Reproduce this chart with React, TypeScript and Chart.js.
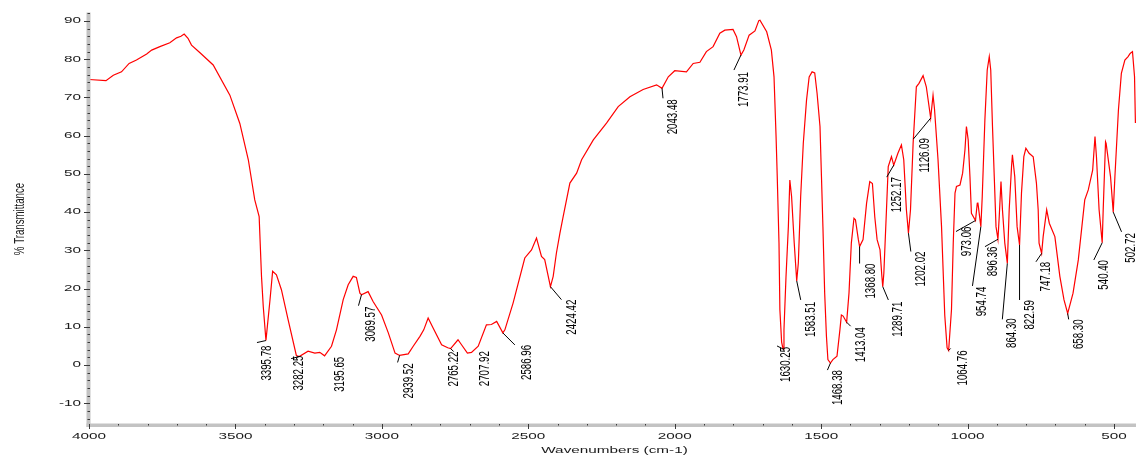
import React, { useEffect, useRef } from "react";
import { Chart, registerables } from "chart.js";

Chart.register(...registerables);

// Spectrum (wavenumber in cm-1, % transmittance)
const wavenumbers = [
  4000, 3942, 3917, 3889, 3863, 3838, 3803, 3786, 3758, 3724, 3701, 3686, 3675, 3662, 3650, 3621, 3576, 3519, 3485, 3456,
  3434, 3419, 3411, 3405, 3395.78, 3391, 3382, 3373, 3360, 3343, 3320, 3292, 3282.25, 3252, 3229, 3212, 3195.65, 3172, 3155, 3132,
  3115, 3098, 3087, 3075, 3069.57, 3047, 3030, 3001, 2978, 2955, 2939.52, 2910, 2893, 2870, 2857, 2842, 2825, 2796, 2775, 2765.22,
  2740, 2728, 2707.92, 2694, 2671, 2643, 2626, 2608, 2586.96, 2580, 2552, 2512, 2489, 2472, 2455, 2444, 2424.42, 2415, 2404, 2392,
  2381, 2358, 2335, 2318, 2278, 2233, 2193, 2153, 2108, 2062, 2043.48, 2022, 2000, 1960, 1937, 1914, 1892, 1869, 1846, 1829,
  1801, 1789, 1773.91, 1764, 1746, 1726, 1713, 1709, 1686, 1670, 1661, 1654, 1650, 1644, 1641, 1635, 1630.25, 1627, 1620, 1612,
  1607, 1601, 1592, 1583.51, 1578, 1570, 1561, 1550, 1541, 1531, 1522, 1514, 1504, 1499, 1494, 1488, 1482, 1477, 1468.38, 1460,
  1446, 1436, 1431, 1425, 1413.04, 1405, 1397, 1388, 1383, 1373, 1368.8, 1357, 1345, 1334, 1325, 1317, 1309, 1299, 1293, 1289.71,
  1286, 1277, 1271, 1260, 1252.17, 1238, 1226, 1218, 1209, 1202.02, 1195, 1186, 1175, 1166, 1152, 1141, 1126.09, 1118, 1113, 1101,
  1089, 1078, 1070, 1064.76, 1055, 1049, 1043, 1038, 1026, 1017, 1009, 1004, 998, 992, 987, 973.06, 967, 965, 954.74, 950,
  941, 933, 926, 921, 915, 909, 903, 896.36, 892, 886, 881, 873, 864.3, 858, 850, 847, 839, 831, 822.59, 816,
  808, 801, 790, 776, 765, 759, 756, 747.18, 742, 730, 721, 702, 685, 671, 658.3, 640, 622, 600, 588, 573,
  565, 560, 551, 540.4, 537, 529, 527, 512, 502.72, 497, 485, 475, 463, 452, 445, 437, 430, 427,
];
const transmittance = [
  74.7, 74.4, 75.8, 76.7, 78.9, 79.8, 81.4, 82.4, 83.3, 84.3, 85.6, 86.0, 86.6, 85.5, 83.7, 81.7, 78.5, 70.6, 63.2, 53.7,
  43.2, 38.8, 23.2, 15.3, 6.4, 10.1, 17.0, 24.5, 23.6, 19.7, 11.8, 2.5, 2.2, 3.6, 3.1, 3.3, 2.4, 4.9, 9.2, 17.1,
  21.0, 23.2, 22.9, 18.8, 18.4, 19.2, 16.6, 13.1, 8.4, 3.1, 2.5, 2.9, 4.9, 7.5, 9.2, 12.3, 9.7, 5.3, 4.5, 4.3,
  6.6, 5.3, 3.1, 3.3, 4.9, 10.5, 10.6, 11.4, 8.4, 9.2, 16.2, 28.0, 30.1, 33.2, 28.4, 27.6, 20.5, 23.2, 29.3, 34.5,
  38.8, 47.6, 50.2, 53.7, 58.9, 63.3, 67.6, 70.2, 72.1, 73.3, 72.4, 75.4, 77.0, 76.7, 78.9, 79.2, 82.0, 83.3, 86.8, 87.6,
  87.8, 85.9, 81.1, 82.4, 86.3, 87.4, 90.1, 90.2, 87.2, 82.4, 75.4, 59.8, 49.3, 31.9, 14.5, 6.0, 4.2, 9.2, 23.2, 36.2,
  48.4, 44.1, 31.9, 22.0, 26.7, 44.1, 58.0, 69.3, 75.4, 76.7, 76.4, 71.1, 62.4, 49.3, 36.2, 18.8, 7.5, 1.4, 0.5, 1.4,
  2.3, 9.2, 13.1, 12.8, 11.2, 18.8, 31.9, 38.4, 38.0, 32.8, 31.0, 32.8, 42.3, 48.0, 47.5, 38.8, 32.8, 30.1, 23.5, 20.5,
  24.0, 40.6, 51.9, 54.5, 52.3, 55.4, 57.6, 53.7, 40.6, 34.5, 40.6, 58.0, 72.8, 73.7, 75.7, 72.8, 64.6, 70.6, 67.0, 53.7,
  36.2, 13.0, 4.5, 3.8, 14.5, 31.9, 45.0, 46.7, 47.1, 50.2, 56.3, 62.4, 58.9, 49.3, 39.7, 37.8, 42.3, 42.5, 36.2, 44.1,
  64.1, 77.2, 80.7, 77.2, 62.4, 49.3, 36.2, 32.9, 38.8, 48.0, 40.6, 31.9, 26.6, 40.6, 51.9, 55.0, 49.3, 36.2, 31.4, 45.0,
  54.5, 56.7, 55.4, 54.5, 47.6, 40.6, 31.9, 29.2, 33.6, 40.6, 37.1, 33.6, 23.2, 17.1, 13.5, 18.8, 27.5, 43.2, 45.8, 51.0,
  59.8, 54.5, 40.6, 32.0, 40.6, 58.4, 58.0, 49.3, 40.0, 49.3, 66.7, 76.3, 79.8, 80.7, 81.5, 82.0, 75.4, 63.3,
];

// Labelled peaks
const peakWavenumbers = [
  3395.78, 3282.25, 3195.65, 3069.57, 2939.52, 2765.22, 2707.92, 2586.96, 2424.42, 2043.48, 1773.91, 1630.25, 1583.51, 1468.38, 1413.04,
  1368.8, 1289.71, 1252.17, 1202.02, 1126.09, 1064.76, 973.06, 954.74, 896.36, 864.3, 822.59, 747.18, 658.3, 540.4, 502.72,
];
const peakTransmittance = [
  6.4, 2.2, 2.4, 18.4, 2.5, 4.3, 3.1, 8.4, 20.5, 72.4, 81.1, 4.2, 22.0, 0.5, 11.2,
  31.0, 20.5, 52.3, 34.5, 64.6, 3.8, 37.8, 36.2, 32.9, 26.6, 31.4, 29.2, 13.5, 32.0, 40.0,
];

// Axis ticks and titles
const xMajorTicks = [4000, 3500, 3000, 2500, 2000, 1500, 1000, 500];
const yMajorTicks = [-10, 0, 10, 20, 30, 40, 50, 60, 70, 80, 90];
const xTitle = "Wavenumbers (cm-1)";
const yTitle = "% Transmittance";

// Layout of the peak annotations in pixels: [leaderDx, leaderDy, textDx, textTopDy]
const peakLayout = [
  [-9, 2, 1, 5], [-8, 2, 0, -1], [0, 0, 15, 1], [-3, 11, 9, 12], [-2, 7, 9, 8],
  [3, 3, 3.5, 3], [0, 0, 18, -2], [12, 12, 24, 12], [11, 13, 22, 13], [1, 10, 11, 11],
  [-7, 15, 3.5, 17], [-6, -3, 3, -2], [4, 19, 14.5, 21], [-3, 7, 8, 7], [4, 4, 14.5, 5],
  [0, 17, 11, 17], [5.6, 13.3, 15.6, 15], [-7, 12, 3, 12], [2.4, 18.4, 12.7, 18.4], [-17.4, 21, -5.7, 20],
  [2, -2, 14, 0], [-19.5, 11, -8.5, 6], [-8.4, 59.3, 1.3, 60], [-13, 7.4, -4.5, 7.4], [-5, 56, 5, 55],
  [0, 55, 10, 55], [-5.7, 8.4, 4.6, 8.4], [1, 6, 11.5, 6], [-8.4, 17.3, 2, 17.3], [8.3, 19.7, 18, 21],
];

const FONT_FAMILY = "'Liberation Sans', Arial, Helvetica, sans-serif";

function drawWide(ctx: CanvasRenderingContext2D, text: string, x: number, y: number, align: CanvasTextAlign) {
  ctx.save();
  ctx.translate(x, y);
  ctx.scale(1.8, 1);
  ctx.font = `8.5px ${FONT_FAMILY}`;
  ctx.textAlign = align;
  ctx.textBaseline = "middle";
  ctx.fillText(text, 0, 0);
  ctx.restore();
}

function drawVertical(ctx: CanvasRenderingContext2D, text: string, x: number, y: number, align: CanvasTextAlign) {
  ctx.save();
  ctx.translate(x, y);
  ctx.rotate(-Math.PI / 2);
  ctx.scale(1, 1.5);
  ctx.font = `9.7px ${FONT_FAMILY}`;
  ctx.textAlign = align;
  ctx.textBaseline = "middle";
  ctx.fillText(text, 0, 0);
  ctx.restore();
}

const irAxesPlugin = {
  id: "irAxes",
  afterDatasetsDraw(chart: any) {
    const { ctx, chartArea: ca, scales } = chart;
    const xs = scales.x;
    const ys = scales.y;
    ctx.save();

    // axis bands
    ctx.fillStyle = "#c3c3c3";
    ctx.fillRect(ca.left - 2.5, ca.top - 0.5, 4, ca.bottom - ca.top + 2.5);
    ctx.fillRect(ca.left - 2.5, ca.bottom - 1.5, ca.right - ca.left + 2.5, 3.5);

    ctx.strokeStyle = "#3a3a3a";
    ctx.lineWidth = 1;

    // y ticks (minor every 2, major every 10)
    for (let v = ys.min - (ys.min % 2); v <= ys.max; v += 2) {
      const vv = Math.round(v);
      if (vv < ys.min || vv > ys.max) continue;
      const py = Math.round(ys.getPixelForValue(vv)) + 0.5;
      const major = vv % 10 === 0;
      ctx.beginPath();
      ctx.moveTo(major ? ca.left - 5 : ca.left - 1.5, py);
      ctx.lineTo(ca.left + 1, py);
      ctx.stroke();
    }

    // x ticks (minor every 100, major every 500)
    for (let v = 4000; v >= xs.min; v -= 100) {
      const px = Math.round(xs.getPixelForValue(v)) + 0.5;
      const major = v % 500 === 0;
      ctx.beginPath();
      ctx.moveTo(px, ca.bottom - 1);
      ctx.lineTo(px, major ? ca.bottom + 4 : ca.bottom + 0.5);
      ctx.stroke();
    }

    // tick labels
    ctx.fillStyle = "#1a1a1a";
    yMajorTicks.forEach((v) => {
      drawWide(ctx, String(v), ca.left - 8, ys.getPixelForValue(v), "right");
    });
    xMajorTicks.forEach((v) => {
      drawWide(ctx, String(v), xs.getPixelForValue(v), ca.bottom + 12, "center");
    });

    // titles
    drawWide(ctx, xTitle, (ca.left + ca.right) / 2 + 2, ca.bottom + 25.5, "center");
    drawVertical(ctx, yTitle, 20, (ca.top + ca.bottom) / 2, "center");

    // peak annotations
    ctx.strokeStyle = "#000";
    ctx.fillStyle = "#000";
    peakWavenumbers.forEach((wn, i) => {
      const px = xs.getPixelForValue(wn);
      const py = ys.getPixelForValue(peakTransmittance[i]);
      const [ldx, ldy, tdx, tdy] = peakLayout[i];
      if (ldx !== 0 || ldy !== 0) {
        ctx.beginPath();
        ctx.moveTo(px, py);
        ctx.lineTo(px + ldx, py + ldy);
        ctx.stroke();
      }
      drawVertical(ctx, wn.toFixed(2), px + tdx, py + tdy, "right");
    });

    ctx.restore();
  },
};

export default function App() {
  const canvasRef = useRef<HTMLCanvasElement | null>(null);

  useEffect(() => {
    if (!canvasRef.current) return;
    const points = wavenumbers.map((w, i) => ({ x: w, y: transmittance[i] }));
    const chart = new Chart(canvasRef.current, {
      type: "line",
      data: {
        datasets: [
          {
            label: "Spectrum",
            data: points,
            borderColor: "#ff0000",
            borderWidth: 1.2,
            pointRadius: 0,
            tension: 0,
            fill: false,
          },
        ],
      },
      options: {
        animation: false,
        responsive: true,
        maintainAspectRatio: false,
        devicePixelRatio: 1,
        parsing: false,
        layout: { padding: { left: 89, right: 0, top: 13, bottom: 31 } },
        plugins: { legend: { display: false }, tooltip: { enabled: false } },
        events: [],
        scales: {
          x: { type: "linear", reverse: true, min: 425, max: 4000, display: false },
          y: { type: "linear", min: -15.7, max: 92.1, display: false },
        },
      },
      plugins: [irAxesPlugin],
    });
    return () => chart.destroy();
  }, []);

  return (
    <div style={{ position: "fixed", left: 0, top: 0, width: 1136, height: 456, background: "#fff" }}>
      <canvas ref={canvasRef} />
    </div>
  );
}
